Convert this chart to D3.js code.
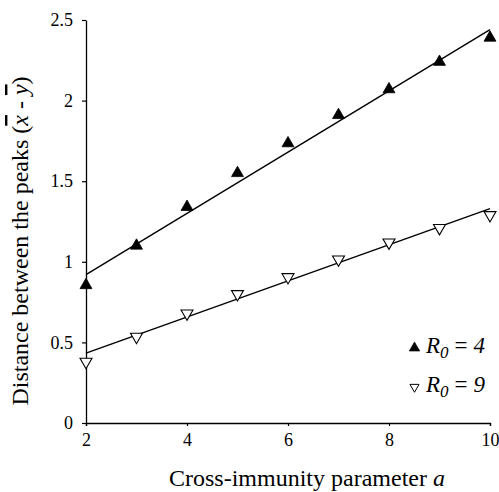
<!DOCTYPE html>
<html>
<head>
<meta charset="utf-8">
<script src="https://cdn.jsdelivr.net/npm/d3@7"></script>
<style>
  html, body { margin: 0; padding: 0; background: #fff; }
  svg { display: block; }
</style>
</head>
<body>
<script>
// ---- data ----
const aValues = [2, 3, 4, 5, 6, 7, 8, 9, 10];
const r0_4 = [0.855, 1.10, 1.34, 1.55, 1.735, 1.91, 2.07, 2.24, 2.39];
const r0_9 = [0.38, 0.535, 0.68, 0.80, 0.905, 1.015, 1.12, 1.21, 1.29];
const fitX = [2, 10];
const fit_r0_4 = [0.92, 2.44];
const fit_r0_9 = [0.434, 1.33];
const xTicks = [2, 4, 6, 8, 10];
const yTicks = [0, 0.5, 1, 1.5, 2, 2.5];
const yTickLabels = ["0", "0.5", "1", "1.5", "2", "2.5"];
const legendLabels = ["4", "9"];

const SERIF = '"Liberation Serif"';

// ---- layout ----
const W = 499, H = 492;
const svg = d3.select("body").append("svg").attr("width", W).attr("height", H);

const x = d3.scaleLinear().domain([2, 10]).range([86, 490]);
const y = d3.scaleLinear().domain([0, 2.5]).range([423, 20]);

// axes
const xAxis = d3.axisBottom(x).tickValues(xTicks).tickSize(3).tickSizeOuter(3).tickPadding(7)
  .tickFormat(d3.format("d"));
const gx = svg.append("g").attr("transform", `translate(0,${y(0)})`).call(xAxis);
gx.attr("font-family", null);
gx.select(".domain").attr("stroke", "#000").attr("stroke-width", 1.3);
gx.selectAll(".tick line").attr("stroke", "#000").attr("stroke-width", 1.2);
gx.selectAll(".tick text").style("font-family", SERIF).style("font-size", "18px").attr("fill", "#000");

const yAxis = d3.axisLeft(y).tickValues(yTicks).tickSize(4).tickSizeOuter(0).tickPadding(9)
  .tickFormat((d, i) => yTickLabels[i]);
const gy = svg.append("g").attr("transform", `translate(${x(2)},0)`).call(yAxis);
gy.attr("font-family", null);
gy.select(".domain").attr("stroke", "#000").attr("stroke-width", 1.3);
gy.selectAll(".tick line").attr("stroke", "#000").attr("stroke-width", 1.2);
gy.selectAll(".tick text").style("font-family", SERIF).style("font-size", "18px").attr("fill", "#000");

// fit lines
const line = d3.line().x(d => x(d[0])).y(d => y(d[1]));
[fit_r0_4, fit_r0_9].forEach(f => {
  svg.append("path")
    .datum(fitX.map((v, i) => [v, f[i]]))
    .attr("d", line)
    .attr("fill", "none")
    .attr("stroke", "#000")
    .attr("stroke-width", 1.4);
});

// markers
const tri = d3.symbol().type(d3.symbolTriangle).size(62);
svg.append("g").selectAll("path")
  .data(aValues.map((a, i) => [a, r0_4[i]]))
  .join("path")
  .attr("d", tri)
  .attr("transform", d => `translate(${x(d[0])},${y(d[1])})`)
  .attr("fill", "#000")
  .attr("stroke", "#000")
  .attr("stroke-width", 0.8);

svg.append("g").selectAll("path")
  .data(aValues.map((a, i) => [a, r0_9[i]]))
  .join("path")
  .attr("d", tri)
  .attr("transform", d => `translate(${x(d[0])},${y(d[1])}) rotate(180)`)
  .attr("fill", "#fff")
  .attr("stroke", "#000")
  .attr("stroke-width", 1.1);

// legend
const legend = svg.append("g");
legendLabels.forEach((lab, i) => {
  const base = 353 + i * 39;
  legend.append("path")
    .attr("d", d3.symbol().type(d3.symbolTriangle).size(i === 0 ? 48 : 36))
    .attr("transform", `translate(414.5,${base - 5})` + (i === 1 ? " rotate(180)" : ""))
    .attr("fill", i === 0 ? "#000" : "#fff")
    .attr("stroke", "#000")
    .attr("stroke-width", i === 0 ? 0.6 : 1);
  const t = legend.append("text")
    .attr("x", 426).attr("y", base)
    .style("font-family", SERIF)
    .style("font-size", "23px");
  t.append("tspan").style("font-style", "italic").text("R");
  t.append("tspan").style("font-style", "italic").style("font-size", "17px").attr("dy", 5).text("0");
  t.append("tspan").attr("dy", -5).attr("dx", 6).text("=");
  t.append("tspan").style("font-style", "italic").attr("dx", 6).text(lab);
});

// axis titles
svg.append("text")
  .attr("x", 307).attr("y", 486)
  .attr("text-anchor", "middle")
  .style("font-family", SERIF)
  .style("font-size", "24px")
  .call(t => {
    t.append("tspan").text("Cross-immunity parameter ");
    t.append("tspan").style("font-style", "italic").text("a");
  });

const yt = svg.append("text")
  .attr("transform", "translate(28,241) rotate(-90)")
  .attr("text-anchor", "middle")
  .style("font-family", SERIF)
  .style("font-size", "24px");
yt.append("tspan").text("Distance between the peaks (");
yt.append("tspan").style("font-style", "italic").style("text-decoration", "overline").text("x");
yt.append("tspan").text(" - ");
yt.append("tspan").style("font-style", "italic").style("text-decoration", "overline").text("y");
yt.append("tspan").text(")");
</script>
</body>
</html>
